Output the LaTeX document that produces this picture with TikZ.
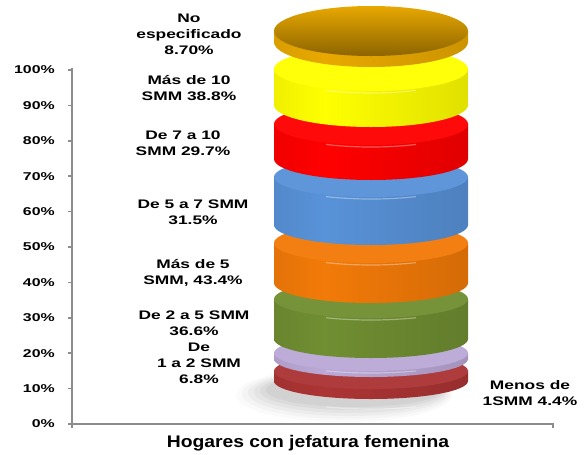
\documentclass[tikz,border=0pt]{standalone}
\usepackage{fontspec}
\setmainfont{Liberation Sans}
\newfontfamily\chartfont{Liberation Sans}[FakeStretch=1.4]
\newfontfamily\titlefont{Liberation Sans}[FakeStretch=1.15]
\definecolor{axisgray}{RGB}{140,140,140}
\definecolor{goldmain}{RGB}{232,168,0}
\definecolor{goldtop}{RGB}{140,100,0}
\definecolor{yellowmain}{RGB}{255,255,0}
\definecolor{redmain}{RGB}{255,0,0}
\definecolor{bluemain}{RGB}{88,146,216}
\definecolor{orangemain}{RGB}{242,122,8}
\definecolor{greenmain}{RGB}{112,142,50}
\definecolor{lavmain}{RGB}{186,168,214}
\definecolor{darkredmain}{RGB}{172,52,52}
\colorlet{discmain}{red}
\colorlet{discleft}{red}
\colorlet{discmid}{red}
\colorlet{discright}{red}
\pgfdeclarehorizontalshading[discmain,discleft,discmid,discright]{discside}{100bp}{color(0bp)=(discleft); color(12bp)=(discmid); color(38bp)=(discmain); color(75bp)=(discmid); color(100bp)=(discright)}
\tikzset{
  disc side/.style={/utils/exec={\colorlet{discmain}{#1}\colorlet{discleft}{#1!60!black}\colorlet{discmid}{#1!88!black}\colorlet{discright}{#1!42!black}}, shading=discside},
  disc top/.style={fill=#1!96!white},
  disc shine/.style={white, opacity=0.35, line width=0.9pt},
  chart label/.style={inner sep=0.75pt, align=center, font=\chartfont\bfseries\fontsize{9.3}{12}\selectfont},
  axis label/.style={inner sep=0.75pt, anchor=east, font=\chartfont\bfseries\fontsize{8.5}{10}\selectfont}
}
\begin{document}
\begin{tikzpicture}[x=0.75pt,y=0.75pt,yscale=-1,xscale=1]
\useasboundingbox (0,0) rectangle (585,454);
%Shape: Shadow
\fill [black, opacity=0.02] (344,395) ellipse [x radius=108, y radius=27];
\fill [black, opacity=0.025] (346,394) ellipse [x radius=104, y radius=25];
\fill [black, opacity=0.03] (348,393) ellipse [x radius=100, y radius=23];
\fill [black, opacity=0.035] (350,392) ellipse [x radius=96, y radius=21];
\fill [black, opacity=0.04] (352,391) ellipse [x radius=92, y radius=19];
\fill [black, opacity=0.045] (354,390) ellipse [x radius=88, y radius=17];
%Shape: Disc (Menos de 1 SMM)
\shade [disc side=darkredmain] (274,371) -- (274,381) arc [start angle=180, end angle=0, x radius=97, y radius=18] -- (468,371) -- cycle ;
\fill [disc top=darkredmain] (371,371) ellipse [x radius=97, y radius=18];
\draw [disc shine] (371,393) ++(120:90 and 16) arc [start angle=120, end angle=60, x radius=90, y radius=16];
%Shape: Disc (De 1 a 2 SMM)
\shade [disc side=lavmain] (274,353) -- (274,359) arc [start angle=180, end angle=0, x radius=97, y radius=18] -- (468,353) -- cycle ;
\fill [disc top=lavmain] (371,353) ellipse [x radius=97, y radius=18];
\draw [disc shine] (371,357) ++(120:90 and 16) arc [start angle=120, end angle=60, x radius=90, y radius=16];
%Shape: Disc (De 2 a 5 SMM)
\shade [disc side=greenmain] (274,299) -- (274,339) arc [start angle=180, end angle=0, x radius=97, y radius=19] -- (468,299) -- cycle ;
\fill [disc top=greenmain] (371,299) ellipse [x radius=97, y radius=19];
\draw [disc shine] (371,303) ++(120:90 and 17) arc [start angle=120, end angle=60, x radius=90, y radius=17];
%Shape: Disc (Mas de 5 SMM)
\shade [disc side=orangemain] (274,243) -- (274,283) arc [start angle=180, end angle=0, x radius=97, y radius=20] -- (468,243) -- cycle ;
\fill [disc top=orangemain] (371,243) ellipse [x radius=97, y radius=20];
\draw [disc shine] (371,247) ++(120:90 and 18) arc [start angle=120, end angle=60, x radius=90, y radius=18];
%Shape: Disc (De 5 a 7 SMM)
\shade [disc side=bluemain] (274,177) -- (274,225) arc [start angle=180, end angle=0, x radius=97, y radius=20] -- (468,177) -- cycle ;
\fill [disc top=bluemain] (371,177) ellipse [x radius=97, y radius=20];
\draw [disc shine] (371,181) ++(120:90 and 18) arc [start angle=120, end angle=60, x radius=90, y radius=18];
%Shape: Disc (De 7 a 10 SMM)
\shade [disc side=redmain] (274,124) -- (274,159) arc [start angle=180, end angle=0, x radius=97, y radius=21] -- (468,124) -- cycle ;
\fill [disc top=redmain] (371,124) ellipse [x radius=97, y radius=21];
\draw [disc shine] (371,128) ++(120:90 and 19) arc [start angle=120, end angle=60, x radius=90, y radius=19];
%Shape: Disc (Mas de 10 SMM)
\shade [disc side=yellowmain] (274,69) -- (274,105) arc [start angle=180, end angle=0, x radius=97, y radius=22] -- (468,69) -- cycle ;
\fill [disc top=yellowmain] (371,69) ellipse [x radius=97, y radius=22];
\draw [disc shine] (371,73) ++(120:90 and 20) arc [start angle=120, end angle=60, x radius=90, y radius=20];
%Shape: Disc (No especificado)
\shade [disc side=goldmain] (274,31) -- (274,42) arc [start angle=180, end angle=0, x radius=97, y radius=25] -- (468,31) -- cycle ;
\shade [top color=goldmain, bottom color=goldtop] (371,31) ellipse [x radius=97, y radius=25];
%Straight Lines: axes
\draw [axisgray, line width=1.2pt] (72,68) -- (72,424) -- (553,424) -- (553,428) ;
\draw [axisgray, line width=1.2pt] (72,424) -- (72,428) ;
\draw [axisgray, line width=1.2pt] (68,70) -- (72,70) (68,105.4) -- (72,105.4) (68,140.8) -- (72,140.8) (68,176.2) -- (72,176.2) (68,211.6) -- (72,211.6) (68,247) -- (72,247) (68,282.4) -- (72,282.4) (68,317.8) -- (72,317.8) (68,353.2) -- (72,353.2) (68,388.6) -- (72,388.6) (68,424) -- (72,424) ;
% Text Node
\draw (56,70) node (y100) [axis label] {100\%};
% Text Node
\draw (56,105.4) node (y90) [axis label] {90\%};
% Text Node
\draw (56,140.8) node (y80) [axis label] {80\%};
% Text Node
\draw (56,176.2) node (y70) [axis label] {70\%};
% Text Node
\draw (56,211.6) node (y60) [axis label] {60\%};
% Text Node
\draw (56,247) node (y50) [axis label] {50\%};
% Text Node
\draw (56,282.4) node (y40) [axis label] {40\%};
% Text Node
\draw (56,317.8) node (y30) [axis label] {30\%};
% Text Node
\draw (56,353.2) node (y20) [axis label] {20\%};
% Text Node
\draw (56,388.6) node (y10) [axis label] {10\%};
% Text Node
\draw (56,424) node (y0) [axis label] {0\%};
% Text Node
\draw (189,34) node (lblnoesp) [chart label] {No\\especificado\\8.70\%};
% Text Node
\draw (189,88) node (lblmas10) [chart label] {Más de 10\\SMM 38.8\%};
% Text Node
\draw (183,143) node (lbl7a10) [chart label] {De 7 a 10\\SMM 29.7\%};
% Text Node
\draw (193,212) node (lbl5a7) [chart label] {De 5 a 7 SMM\\31.5\%};
% Text Node
\draw (193,273) node (lblmas5) [chart label] {Más de 5\\SMM, 43.4\%};
% Text Node
\draw (194,323) node (lbl2a5) [chart label] {De 2 a 5 SMM\\36.6\%};
% Text Node
\draw (199,363) node (lbl1a2) [chart label] {De\\1 a 2 SMM\\6.8\%};
% Text Node
\draw (530,393) node (lblmenos1) [chart label] {Menos de\\1SMM 4.4\%};
% Text Node
\draw (308,443) node (xtitle) [inner sep=0.75pt, font=\titlefont\bfseries\fontsize{12.6}{15}\selectfont] {Hogares con jefatura femenina};
\end{tikzpicture}
\end{document}
